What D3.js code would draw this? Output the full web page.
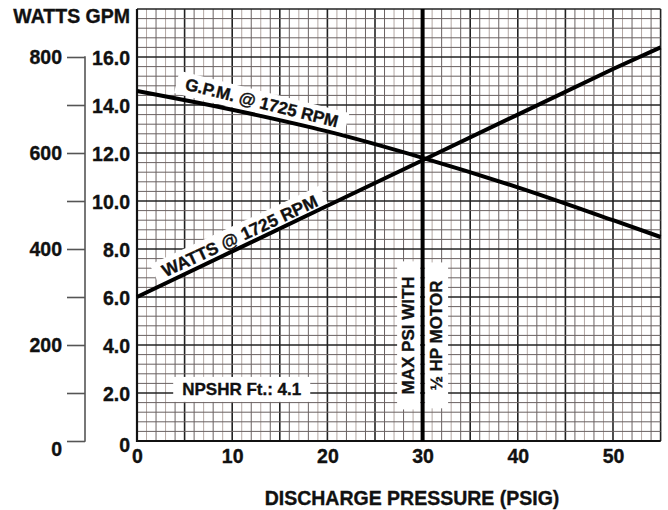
<!DOCTYPE html>
<html>
<head>
<meta charset="utf-8">
<script src="https://cdn.jsdelivr.net/npm/d3@7"></script>
<style>
	body{margin:0;background:#fff;}
	svg text{font-family:"Liberation Sans", Arial, Helvetica, sans-serif;font-weight:bold;fill:#111;stroke:#111;stroke-width:0.35px;}
</style>
</head>
<body>
<div id="chart"></div>
<script>
// discharge pressure (psig) where the curves were read
let pressures = [0, 10, 20, 30, 40, 50, 55];
let gpmValues = [14.58, 13.8, 12.9, 11.8, 10.57, 9.2, 8.5];
let wattValues = [300, 395, 490, 585, 680, 775, 820];
let xTicks = [0, 10, 20, 30, 40, 50];
let gpmTicks = [0, 2, 4, 6, 8, 10, 12, 14, 16];
let wattTicks = [0, 100, 200, 300, 400, 500, 600, 700, 800];
let wattLabels = [0, 200, 400, 600, 800];
let maxPsi = 30;
let npshr = 4.1;

function PumpChart(divElement){
	let w = 668,
		h = 510,
		xMax = 55,
		gpmMax = 18,
		fontSize = 19.5,
		scaleX = d3.scaleLinear().domain([0, xMax]).range([137, 660.6]),
		scaleY = d3.scaleLinear().domain([0, gpmMax]).range([441, 9]),
		scaleW = d3.scaleLinear().domain([0, gpmMax*50]).range([441, 9]);

	let svgElem = divElement.append("svg").attr("width", w).attr("height", h);
	let gridG = svgElem.append("g"),
		boxG = svgElem.append("g"),
		lineG = svgElem.append("g"),
		textG = svgElem.append("g");

	// grid - minor every 1 psi / 0.4 gpm, major every 5 psi / 2 gpm
	d3.range(0, xMax + 1).forEach(function(v){
		let major = v % 5 === 0;
		gridG.append("line")
			.attr("x1", scaleX(v)).attr("x2", scaleX(v))
			.attr("y1", scaleY(0)).attr("y2", scaleY(gpmMax))
			.style("stroke", major ? "#222" : (v % 2 ? "#b3a7a3" : "#6a6262"))
			.style("stroke-width", major ? 1.6 : 1);
	});
	d3.range(0, gpmMax/0.4 + 1).forEach(function(i){
		let major = i % 5 === 0;
		gridG.append("line")
			.attr("x1", scaleX(0)).attr("x2", scaleX(xMax))
			.attr("y1", scaleY(i*0.4)).attr("y2", scaleY(i*0.4))
			.style("stroke", major ? "#222" : "#6a6262")
			.style("stroke-width", major ? 1.6 : 1);
	});
	// frame left / bottom
	gridG.append("line").attr("x1", scaleX(0)).attr("x2", scaleX(0))
		.attr("y1", scaleY(0) + 1).attr("y2", scaleY(gpmMax)).style("stroke", "#111").style("stroke-width", 2.2);
	gridG.append("line").attr("x1", scaleX(0) - 1).attr("x2", scaleX(xMax))
		.attr("y1", scaleY(0)).attr("y2", scaleY(0)).style("stroke", "#111").style("stroke-width", 2.2);

	// text with a white box behind it (box goes under the curves, text above)
	function boxedText(transform, txt, size, padX, padY){
		let t = textG.append("g").attr("transform", transform)
			.append("text")
			.attr("text-anchor", "middle")
			.attr("dominant-baseline", "central")
			.style("font-size", size + "px")
			.text(txt);
		let bb = t.node().getBBox();
		boxG.append("rect")
			.attr("transform", transform)
			.attr("x", bb.x - padX).attr("y", bb.y - padY)
			.attr("width", bb.width + 2*padX).attr("height", bb.height + 2*padY)
			.style("fill", "#fff");
	}

	boxedText("translate(" + scaleX(11) + "," + scaleY(2.15) + ")", "NPSHR Ft.: " + npshr, 17, 9, 3);
	boxedText("translate(" + (scaleX(maxPsi) - 14) + "," + scaleY(4.4) + ") rotate(-90)", "MAX PSI WITH", 17, 15, 2);
	boxedText("translate(" + (scaleX(maxPsi) + 14) + "," + scaleY(4.4) + ") rotate(-90)", "\u00bd HP MOTOR", 17, 18, 2);
	boxedText("translate(" + scaleX(13.1) + "," + scaleY(14.08) + ") rotate(14)", "G.P.M. @ 1725 RPM", 17, 9, 2);
	boxedText("translate(" + scaleX(10.8) + "," + scaleW(427) + ") rotate(-25)", "WATTS @ 1725 RPM", 17.5, 9, 2);

	// max psi line
	lineG.append("line")
		.attr("x1", scaleX(maxPsi)).attr("x2", scaleX(maxPsi))
		.attr("y1", scaleY(0)).attr("y2", scaleY(gpmMax))
		.style("stroke", "#000").style("stroke-width", 4);

	// curves
	let gpmLine = d3.line()
		.x(function(d, i){ return scaleX(pressures[i]); })
		.y(function(d){ return scaleY(d); })
		.curve(d3.curveMonotoneX);
	let wattLine = d3.line()
		.x(function(d, i){ return scaleX(pressures[i]); })
		.y(function(d){ return scaleW(d); });
	lineG.append("path").attr("d", gpmLine(gpmValues))
		.style("fill", "none").style("stroke", "#000").style("stroke-width", 4);
	lineG.append("path").attr("d", wattLine(wattValues))
		.style("fill", "none").style("stroke", "#000").style("stroke-width", 4);

	// watts axis
	let wattAxis = d3.axisLeft(scaleW)
		.tickValues(wattTicks)
		.tickSize(18)
		.tickSizeOuter(0)
		.tickPadding(5)
		.tickFormat(function(d){ return wattLabels.indexOf(d) >= 0 ? d : ""; });
	let wattG = svgElem.append("g").attr("transform", "translate(85,0)").call(wattAxis);
	wattG.select(".domain").remove();
	wattG.selectAll(".tick line").style("stroke", "#555").style("stroke-width", 1.6);
	wattG.append("line").attr("x1", 0).attr("x2", 0)
		.attr("y1", scaleW(0) + 0.8).attr("y2", scaleW(800) - 0.8)
		.style("stroke", "#555").style("stroke-width", 1.6);
	wattG.selectAll(".tick text").style("font-size", fontSize + "px").attr("fill", "#111")
		.attr("dy", function(d){ return d === 0 ? "0.75em" : "0.34em"; });

	// gpm axis
	let gpmAxis = d3.axisLeft(scaleY)
		.tickValues(gpmTicks)
		.tickSize(0)
		.tickPadding(7)
		.tickFormat(function(d){ return d === 0 ? "0" : d3.format(".1f")(d); });
	let gpmG = svgElem.append("g").attr("transform", "translate(" + scaleX(0) + ",0)").call(gpmAxis);
	gpmG.select(".domain").remove();
	gpmG.selectAll(".tick text").style("font-size", fontSize + "px").attr("fill", "#111")
		.attr("dy", function(d){ return d === 0 ? "0.55em" : "0.36em"; });

	// pressure axis
	let xAxis = d3.axisBottom(scaleX)
		.tickValues(xTicks)
		.tickSize(0)
		.tickPadding(8);
	let xG = svgElem.append("g").attr("transform", "translate(0," + scaleY(0) + ")").call(xAxis);
	xG.select(".domain").remove();
	xG.selectAll(".tick text").style("font-size", fontSize + "px").attr("fill", "#111");

	svgElem.append("text")
		.attr("x", 130).attr("y", 23)
		.attr("text-anchor", "end")
		.style("font-size", fontSize + "px")
		.text("WATTS GPM");
	svgElem.append("text")
		.attr("x", 412).attr("y", 505)
		.attr("text-anchor", "middle")
		.style("font-size", fontSize + "px")
		.text("DISCHARGE PRESSURE (PSIG)");
}

PumpChart(d3.select("#chart"));
</script>
</body>
</html>
